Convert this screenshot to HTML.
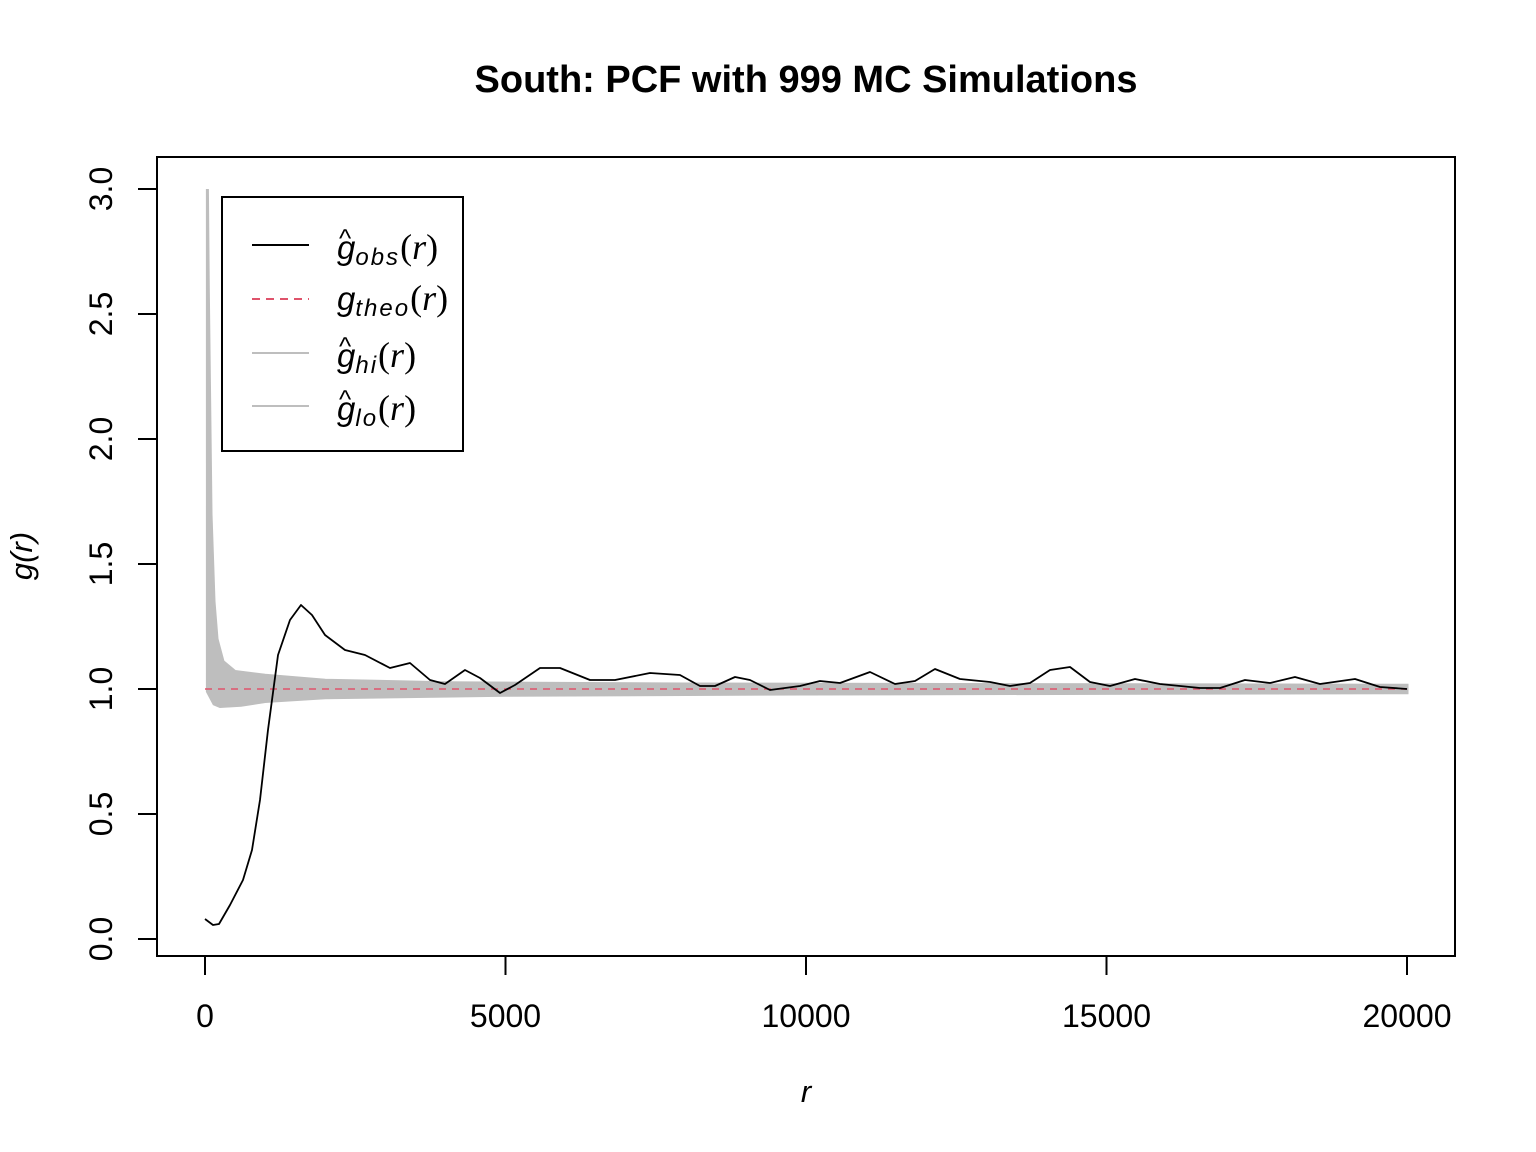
<!DOCTYPE html>
<html><head><meta charset="utf-8"><style>
html,body{margin:0;padding:0;background:#fff;}
svg{display:block;font-family:"Liberation Sans",sans-serif;}
</style></head><body>
<svg id="chart" width="1536" height="1152" viewBox="0 0 1536 1152">
<rect width="1536" height="1152" fill="#fff"/>
<text x="806" y="92" text-anchor="middle" font-size="38" font-weight="bold">South: PCF with 999 MC Simulations</text>
<g id="band"></g>
<g id="lines"></g>
<rect x="157" y="157" width="1298" height="799" fill="none" stroke="#000" stroke-width="2"/>
<g id="axes"></g>
<text x="806" y="1102" text-anchor="middle" font-size="31" font-style="italic">r</text>
<text transform="translate(32,556) rotate(-90)" text-anchor="middle" font-size="31" font-style="italic">g(r)</text>
<g>
<rect x="222" y="197" width="241" height="254" fill="#fff" stroke="#000" stroke-width="2"/>
<line x1="252" y1="245" x2="309" y2="245" stroke="#000" stroke-width="2"/>
<line x1="252" y1="299" x2="309" y2="299" stroke="#DF536B" stroke-width="2" stroke-dasharray="8,6"/>
<line x1="252" y1="353" x2="309" y2="353" stroke="#BEBEBE" stroke-width="2"/>
<line x1="252" y1="406" x2="309" y2="406" stroke="#BEBEBE" stroke-width="2"/>
<g font-size="36" font-family="'Liberation Serif',serif">
<text x="337" y="259"><tspan font-style="italic" font-family="'Liberation Sans',sans-serif" font-size="33">g</tspan><tspan font-style="italic" font-size="24" dy="6" font-family="'Liberation Sans',sans-serif" letter-spacing="2">obs</tspan><tspan dy="-6">(</tspan><tspan font-style="italic">r</tspan>)</text>
<text x="339" y="247" font-size="26" font-family="'Liberation Sans',sans-serif">^</text>
<text x="337" y="310"><tspan font-style="italic" font-family="'Liberation Sans',sans-serif" font-size="33">g</tspan><tspan font-style="italic" font-size="24" dy="6" font-family="'Liberation Sans',sans-serif" letter-spacing="2">theo</tspan><tspan dy="-6">(</tspan><tspan font-style="italic">r</tspan>)</text>
<text x="337" y="367"><tspan font-style="italic" font-family="'Liberation Sans',sans-serif" font-size="33">g</tspan><tspan font-style="italic" font-size="24" dy="6" font-family="'Liberation Sans',sans-serif" letter-spacing="2">hi</tspan><tspan dy="-6">(</tspan><tspan font-style="italic">r</tspan>)</text>
<text x="339" y="355" font-size="26" font-family="'Liberation Sans',sans-serif">^</text>
<text x="337" y="420"><tspan font-style="italic" font-family="'Liberation Sans',sans-serif" font-size="33">g</tspan><tspan font-style="italic" font-size="24" dy="6" font-family="'Liberation Sans',sans-serif" letter-spacing="2">lo</tspan><tspan dy="-6">(</tspan><tspan font-style="italic">r</tspan>)</text>
<text x="339" y="408" font-size="26" font-family="'Liberation Sans',sans-serif">^</text>
</g>
</g>
</svg>
<script>
const xTicks=[0,5000,10000,15000,20000];
const yTicks=[0.0,0.5,1.0,1.5,2.0,2.5,3.0];
const obsR=[0,133,233,416,632,782,915,1048,1215,1414,1597,1780,1997,2329,2662,3078,3411,3744,3993,4326,4576,4909,5158,5574,5907,6406,6822,7404,7903,8236,8486,8819,9068,9401,9900,10233,10566,11065,11481,11814,12146,12562,13062,13394,13727,14060,14393,14725,15058,15474,15890,16556,16889,17304,17720,18136,18552,19135,19551,20000];
const obsG=[0.08,0.056,0.06,0.136,0.236,0.356,0.556,0.836,1.136,1.276,1.336,1.296,1.216,1.156,1.136,1.084,1.104,1.036,1.02,1.076,1.044,0.984,1.016,1.084,1.084,1.036,1.036,1.064,1.056,1.012,1.012,1.048,1.036,0.996,1.012,1.032,1.024,1.068,1.02,1.032,1.08,1.04,1.028,1.012,1.024,1.076,1.088,1.028,1.012,1.04,1.02,1.004,1.004,1.036,1.024,1.048,1.02,1.04,1.008,1.0];
const hiR=[40,55,70,100,150,200,300,500,1000,2000,4000,8000,20000];
const hiG=[3.0,2.6,2.3,1.7,1.35,1.2,1.11,1.07,1.055,1.035,1.025,1.02,1.015];
const loR=[40,150,250,600,1000,2000,5000,10000,20000];
const loG=[0.99,0.94,0.93,0.935,0.95,0.965,0.975,0.98,0.985];
const theoG=1.0;
const xs=r=>205+r*(1202/20000);
const ys=g=>939-g*250;
const NS='http://www.w3.org/2000/svg';
function mk(t,parent){const e=document.createElementNS(NS,t);parent.appendChild(e);return e;}
let d='M'+hiR.map((r,i)=>xs(r)+','+ys(hiG[i])).join('L');
for(let i=loR.length-1;i>=0;i--)d+='L'+xs(loR[i])+','+ys(loG[i]);
d+='Z';
const band=mk('path',document.getElementById('band'));


band.setAttribute('d',d);band.setAttribute('fill','#BEBEBE');band.setAttribute('stroke','#BEBEBE');band.setAttribute('stroke-width','3');
const L=document.getElementById('lines');
const th=mk('line',L);


th.setAttribute('x1',xs(0));th.setAttribute('x2',xs(20000));th.setAttribute('y1',ys(theoG));th.setAttribute('y2',ys(theoG));
th.setAttribute('stroke','#DF536B');th.setAttribute('stroke-width','1.5');th.setAttribute('stroke-dasharray','7,6');
const ob=mk('polyline',L);


ob.setAttribute('points',obsR.map((r,i)=>xs(r)+','+ys(obsG[i])).join(' '));
ob.setAttribute('fill','none');ob.setAttribute('stroke','#000');ob.setAttribute('stroke-width','1.8');ob.setAttribute('stroke-linejoin','round');
const A=document.getElementById('axes');
const xa=mk('line',A);


xa.setAttribute('x1',xs(0));xa.setAttribute('x2',xs(20000));xa.setAttribute('y1',956);xa.setAttribute('y2',956);xa.setAttribute('stroke','#000');xa.setAttribute('stroke-width','2');
xTicks.forEach(v=>{
 const t=mk('line',A);
 
 
 t.setAttribute('x1',xs(v));t.setAttribute('x2',xs(v));t.setAttribute('y1',956);t.setAttribute('y2',975);t.setAttribute('stroke','#000');t.setAttribute('stroke-width','2');
 const l=mk('text',A);
 
 
 l.setAttribute('x',xs(v));l.setAttribute('y',1027);l.setAttribute('text-anchor','middle');l.setAttribute('font-size','32');l.textContent=String(v);
});
const ya=mk('line',A);


ya.setAttribute('x1',157);ya.setAttribute('x2',157);ya.setAttribute('y1',ys(0));ya.setAttribute('y2',ys(3));ya.setAttribute('stroke','#000');ya.setAttribute('stroke-width','2');
yTicks.forEach(v=>{
 const t=mk('line',A);
 
 
 t.setAttribute('x1',138);t.setAttribute('x2',157);t.setAttribute('y1',ys(v));t.setAttribute('y2',ys(v));t.setAttribute('stroke','#000');t.setAttribute('stroke-width','2');
 const l=mk('text',A);
 
 
 l.setAttribute('transform','translate(112,'+ys(v)+') rotate(-90)');l.setAttribute('text-anchor','middle');l.setAttribute('font-size','32');l.textContent=v.toFixed(1);
});
</script>
</body></html>
